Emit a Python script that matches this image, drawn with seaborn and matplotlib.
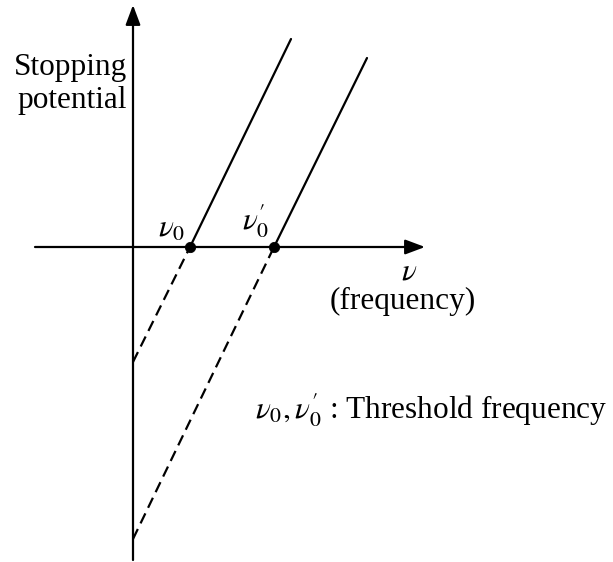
import matplotlib
matplotlib.use("Agg")
import matplotlib.pyplot as plt
import seaborn as sns

# stopping potential vs frequency, arbitrary units (origin at the axes crossing)
threshold = [57, 141]          # nu_0, nu_0'
intercept = [-115, -292]       # value where the dashed extension meets the y axis
top_x = [158, 234]             # upper end of each solid line
top_y = [208, 189]
labels = [r"$\nu_0$", r"$\nu_0^{\prime}$"]

sns.set_style("white")
plt.rcParams["font.family"] = ["Liberation Serif", "DejaVu Serif"]
plt.rcParams["mathtext.fontset"] = "stix"
plt.rcParams["text.color"] = "black"

fig = plt.figure(figsize=(6.13, 5.62), dpi=100)
ax = fig.add_axes([0, 0, 1, 1])
ax.set_xlim(-133, 480)
ax.set_ylim(-315, 247)
ax.axis("off")

lw = 1.6
# axes with arrow heads
ax.annotate("", xy=(292, 0), xytext=(-98, 0),
            arrowprops=dict(arrowstyle="-|>,head_length=1.2,head_width=0.45",
                            color="black", lw=lw, shrinkA=0, shrinkB=0))
ax.annotate("", xy=(0, 242), xytext=(0, -313),
            arrowprops=dict(arrowstyle="-|>,head_length=1.2,head_width=0.45",
                            color="black", lw=lw, shrinkA=0, shrinkB=0))

for i in range(len(threshold)):
    sns.lineplot(x=[threshold[i], top_x[i]], y=[0, top_y[i]], ax=ax,
                 color="black", lw=lw)
    sns.lineplot(x=[0, threshold[i]], y=[intercept[i], 0], ax=ax,
                 color="black", lw=lw, linestyle=(0, (5, 2.8)))
sns.scatterplot(x=threshold, y=[0, 0], ax=ax, color="black", s=55,
                edgecolor="black", zorder=5)

fs = 22.5
ax.text(52, 3, labels[0], ha="right", va="bottom", fontsize=fs)
ax.text(136, 7, labels[1], ha="right", va="bottom", fontsize=fs)
ax.text(-6, 163, "Stopping\npotential", ha="right", va="center",
        fontsize=fs, linespacing=1.15)
ax.text(276, -25, r"$\nu$", ha="center", va="center", fontsize=fs)
ax.text(270, -54, "(frequency)", ha="center", va="center", fontsize=fs)
ax.text(122, -163, r"$\nu_0,\nu_0^{\prime}$ : Threshold frequency",
        ha="left", va="center", fontsize=fs)

fig.savefig("out.png", dpi=100)
